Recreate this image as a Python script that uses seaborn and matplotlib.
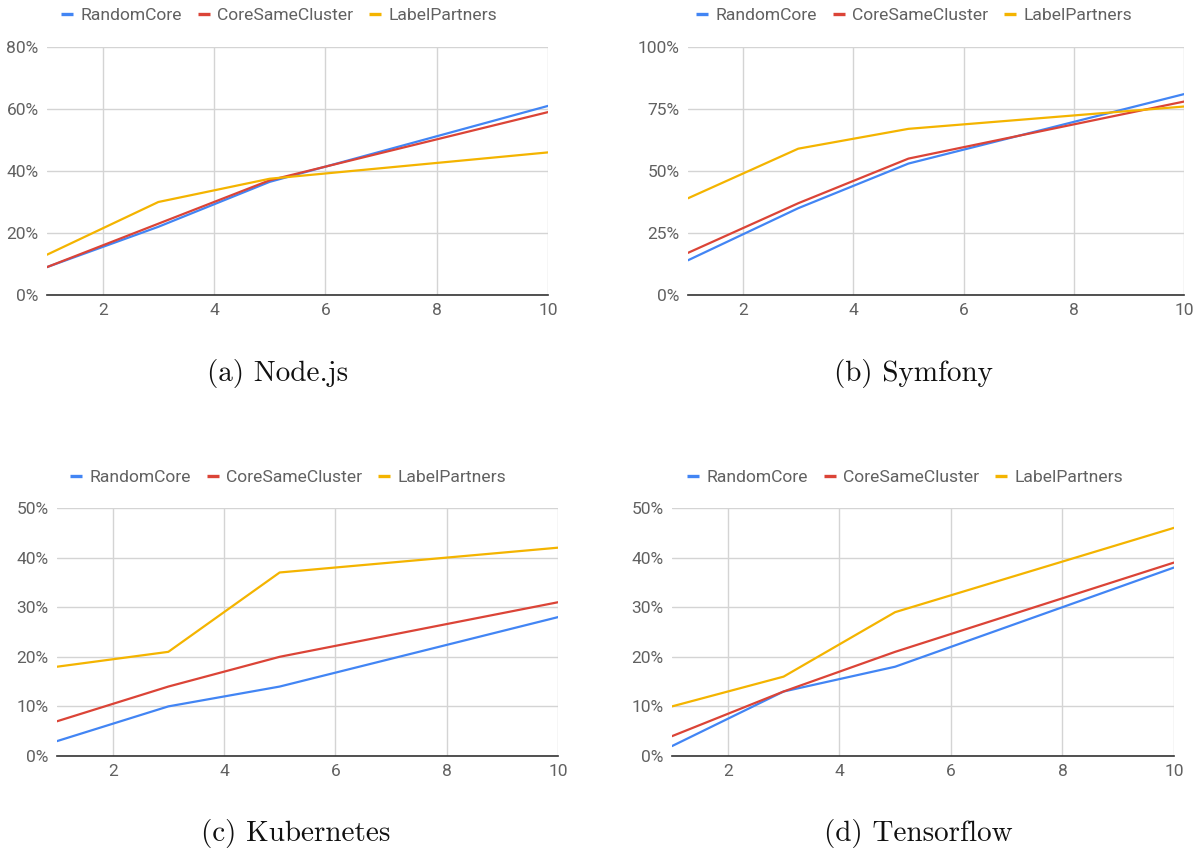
import matplotlib
matplotlib.use("Agg")
import matplotlib.pyplot as plt
import seaborn as sns
import pandas as pd
from matplotlib.ticker import FuncFormatter
from matplotlib.lines import Line2D

sns.set_theme(style="white")
plt.rcParams['font.family'] = ['Roboto', 'DejaVu Sans']

x_vals = [1, 3, 5, 10]
series_names = ["RandomCore", "CoreSameCluster", "LabelPartners"]
colors = ["#4285F4", "#DB4437", "#F4B400"]

nodejs_random = [9, 22, 36.5, 61]
nodejs_core = [9, 23, 37, 59]
nodejs_label = [13, 30, 37.5, 46]

symfony_random = [14, 35, 53, 81]
symfony_core = [17, 37, 55, 78]
symfony_label = [39, 59, 67, 76]

kube_random = [3, 10, 14, 28]
kube_core = [7, 14, 20, 31]
kube_label = [18, 21, 37, 42]

tf_random = [2, 13, 18, 38]
tf_core = [4, 13, 21, 39]
tf_label = [10, 16, 29, 46]

panels = [
    ("(a) Node.js", [nodejs_random, nodejs_core, nodejs_label], 80, [0, 20, 40, 60, 80]),
    ("(b) Symfony", [symfony_random, symfony_core, symfony_label], 100, [0, 25, 50, 75, 100]),
    ("(c) Kubernetes", [kube_random, kube_core, kube_label], 50, [0, 10, 20, 30, 40, 50]),
    ("(d) Tensorflow", [tf_random, tf_core, tf_label], 50, [0, 10, 20, 30, 40, 50]),
]

W, H = 1204, 851
# pixel boxes: left, right, top, bottom
boxes = [(47, 548, 47, 295), (688, 1184, 47, 295), (57, 558, 508, 756), (672, 1174, 508, 756)]
caption_pos = [(278, 373), (913, 373), (296, 833), (918, 833)]
legend_center = [(279, 15), (914, 15), (288, 477), (905, 477)]

fig = plt.figure(figsize=(W / 100, H / 100), dpi=100)

for (title, series, ymax, yticks), (l, r, t, b), (cx, cy), (lx, ly) in zip(panels, boxes, caption_pos, legend_center):
    ax = fig.add_axes([l / W, 1 - b / H, (r - l) / W, (b - t) / H])
    rows = []
    for name, vals in zip(series_names, series):
        for xv, yv in zip(x_vals, vals):
            rows.append({"x": xv, "y": yv, "series": name})
    df = pd.DataFrame(rows)
    sns.lineplot(data=df, x="x", y="y", hue="series", hue_order=series_names,
                 palette=colors, linewidth=1.6, ax=ax, legend=False)
    ax.set_xlim(1, 10)
    ax.set_ylim(0, ymax)
    ax.set_xticks([2, 4, 6, 8, 10])
    ax.set_yticks(yticks)
    ax.yaxis.set_major_formatter(FuncFormatter(lambda v, p: f"{int(v)}%"))
    ax.grid(True, color="#d4d4d4", linewidth=1)
    ax.set_axisbelow(True)
    for s in ["top", "right", "left"]:
        ax.spines[s].set_visible(False)
    ax.spines["bottom"].set_color("#333333")
    ax.spines["bottom"].set_linewidth(1.2)
    ax.spines["bottom"].set_zorder(5)
    ax.tick_params(axis="both", length=0, labelsize=12.5, labelcolor="#616161", pad=6)
    ax.set_xlabel("")
    ax.set_ylabel("")
    handles = [Line2D([], [], color=c, linewidth=2.4, solid_capstyle="butt") for c in colors]
    fig.legend(handles, series_names, loc="center", bbox_to_anchor=(lx / W, 1 - ly / H),
               ncol=3, frameon=False, fontsize=12.6, handlelength=0.7, handletextpad=0.4,
               columnspacing=0.9, labelcolor="#616161")
    fig.text(cx / W, 1 - cy / H, title, ha="center", va="center", fontsize=21,
             family=["cmr10", "DejaVu Serif"], color="#111111")

fig.savefig("out.png", dpi=100)
